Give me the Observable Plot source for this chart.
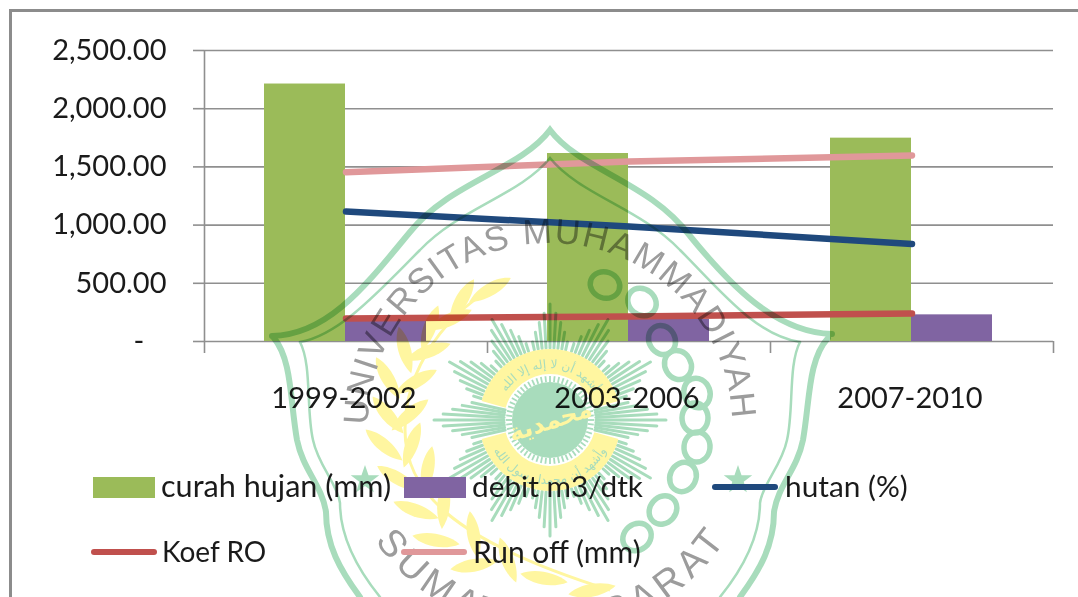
<!DOCTYPE html>
<html>
<head>
<meta charset="utf-8">
<script src="https://cdn.jsdelivr.net/npm/d3@7"></script>
<script src="https://cdn.jsdelivr.net/npm/@observablehq/plot@0.6"></script>
<style>
  html, body { margin: 0; padding: 0; background: #fff; overflow: hidden; }
  #page { position: relative; width: 1078px; height: 597px; overflow: hidden; font-family: Lato, sans-serif; color: #1a1a1a; }
  #frame { position: absolute; left: 9px; top: 9px; right: -5px; bottom: -5px; border: 3px solid #8c8c8c; pointer-events: none; }
  #chart { position: absolute; left: 0; top: 0; }
  .lg { position: absolute; line-height: 36px; white-space: nowrap; }
  .sw { position: absolute; }
</style>
</head>
<body>
<div id="page">
  <div id="chart"></div>
  <div id="frame"></div>
  <div id="legend"></div>
</div>
<script>
const periods    = ["1999-2002", "2003-2006", "2007-2010"];
const curahHujan = [2212, 1615, 1747];
const debit      = [190, 190, 229];
const hutan      = [1117, 988, 838];
const koefRO     = [197, 215, 240];
const runOff     = [1455, 1546, 1598];
const yTicks     = [0, 500, 1000, 1500, 2000, 2500];

const GREEN = "#9bbb59", PURPLE = "#8064a2", NAVY = "#1f497d", RED = "#c0504d", PINK = "#e0989a", AXIS = "#8f8f8f";
const WM = "#a8dcbc", YEL = "#fff6a0", WMTXT = "#9c9c9c";

const fmt = v => v === 0 ? "-\u00a0\u00a0\u00a0" : d3.format(",.2f")(v);

// University watermark that lies over the chart (decoration, not data)
function watermark() {
  const cx = 550, cy = 420;
  const parts = [];
  // shield outline
  parts.push(`<g fill="none" stroke="${WM}" stroke-linecap="round">
    <path stroke-width="6" d="M272,336 C330,335 370,280 410,232 C450,182 520,170 550,130 C580,170 650,182 690,236 C730,285 775,332 832,334"/>
    <path stroke-width="6" d="M274,338 C292,360 290,400 297,440 C303,470 322,485 326,512 C326,545 340,570 360,597"/>
    <path stroke-width="6" d="M828,338 C808,360 810,400 803,440 C797,470 778,485 774,512 C774,545 760,570 740,597"/>
    <path stroke-width="2.5" d="M300,342 C340,335 380,290 420,250 C460,208 520,195 550,158 C580,195 640,208 680,250 C720,290 755,335 800,342"/>
    <path stroke-width="2.5" d="M300,342 C312,365 306,410 313,440 C318,465 338,485 340,503 C340,530 350,560 380,597"/>
    <path stroke-width="2.5" d="M800,342 C788,365 794,410 787,440 C782,465 762,485 760,503 C760,530 750,560 720,597"/>
  </g>`);
  // sun rays
  let rays = "";
  for (let k = 0; k < 12; k++) {
    const a0 = k * Math.PI / 6;
    const side = k === 0 || k === 6;
    for (let j = -4; j <= 4; j++) {
      const a = a0 + j * 0.055;
      const len = 116 - Math.abs(j) * 9;
      const r0 = side ? 46 : 72;
      rays += `<line x1="${cx + r0 * Math.cos(a)}" y1="${cy + r0 * Math.sin(a)}" x2="${cx + len * Math.cos(a)}" y2="${cy + len * Math.sin(a)}"/>`;
    }
  }
  parts.push(`<g stroke="${WM}" stroke-width="3" stroke-linecap="round">${rays}</g>`);
  // yellow ring broken at the two sides
  const arc = (r0, r1, a0, a1) => d3.arc()({innerRadius: r0, outerRadius: r1, startAngle: a0, endAngle: a1});
  parts.push(`<g transform="translate(${cx},${cy})" fill="${YEL}">
    <path d="${arc(46, 71, -1.3, 1.3)}"/><path d="${arc(46, 71, 1.84, 4.44)}"/></g>`);
  // lettering on the ring
  parts.push(`<defs>
    <path id="wmRingT" d="M${cx - 52},${cy} A52,52 0 0 1 ${cx + 52},${cy}"/>
    <path id="wmRingB" d="M${cx - 64},${cy} A64,64 0 0 0 ${cx + 64},${cy}"/>
  </defs>
  <g font-family="DejaVu Sans" font-size="12" fill="${WM}" text-anchor="middle">
    <text text-anchor="middle"><textPath href="#wmRingT" startOffset="50%">أشهد أن لا إله إلا الله</textPath></text>
    <text text-anchor="middle"><textPath href="#wmRingB" startOffset="50%">وأشهد أن محمدا رسول الله</textPath></text>
  </g>`);
  // inner disc
  let teeth = "";
  for (let k = 0; k < 60; k++) {
    const a = k * Math.PI / 30;
    teeth += `<line x1="${cx + 38 * Math.cos(a)}" y1="${cy + 38 * Math.sin(a)}" x2="${cx + 44 * Math.cos(a)}" y2="${cy + 44 * Math.sin(a)}"/>`;
  }
  parts.push(`<g stroke="${WM}" stroke-width="1.8">${teeth}</g><circle cx="${cx}" cy="${cy}" r="38" fill="${WM}"/>`);
  parts.push(`<text x="${cx}" y="${cy + 9}" text-anchor="middle" transform="rotate(-18 ${cx} ${cy})" font-family="DejaVu Sans" font-size="24" font-weight="bold" fill="${YEL}" direction="rtl">محمدية</text>`);
  // laurel
  const leaves = [[490,290,-30],[462,300,-60],[450,320,-25],[430,328,-70],[428,352,-20],[405,350,-105],[416,382,-30],[388,378,-120],[410,415,-40],[388,415,-130],[412,445,-70],[384,445,-140],[428,470,-80],[398,478,-150],[444,505,-85],[416,510,-160],[474,535,-100],[436,540,-170],[508,560,-110],[474,565,170],[544,578,-170],[592,590,170]];
  let lv = `<path d="M505,282 C445,310 405,370 405,430 C405,490 450,540 610,590" fill="none" stroke="${YEL}" stroke-width="3"/>`;
  for (const [x, y, a] of leaves) {
    lv += `<path transform="translate(${x},${y}) rotate(${a})" d="M-24,0 C-10,-9 12,-9 24,0 C12,8 -10,8 -24,0Z" fill="${YEL}"/>`;
  }
  parts.push(`<g>${lv}</g>`);
  // beads
  const beads = [[605,285,20],[642,302,40],[662,340,60],[678,365,60],[697,393,70],[695,418,90],[697,447,95],[683,477,115],[663,510,130],[637,537,140]];
  parts.push(`<g fill="none" stroke="${WM}" stroke-width="5.5">` + beads.map(([x, y, a]) => `<ellipse cx="${x}" cy="${y}" rx="15" ry="13" transform="rotate(${a} ${x} ${y})"/>`).join("") + `</g>`);
  // stars
  const star = (x, y) => `<polygon fill="${WM}" points="${d3.range(10).map(i => { const r = i % 2 ? 6 : 15, a = -Math.PI / 2 + i * Math.PI / 5; return (x + r * Math.cos(a)) + "," + (y + r * Math.sin(a)); }).join(" ")}"/>`;
  parts.push(star(365, 480) + star(738, 480));
  // arc lettering
  parts.push(`<defs>
    <path id="wmTop" d="M368,425 A182,182 0 0 1 732,425"/>
    <path id="wmBot" d="M375,541 A212,212 0 0 0 725,541"/>
  </defs>
  <g font-family="Liberation Sans, Arimo, sans-serif" fill="${WMTXT}" text-anchor="start">
    <text text-anchor="start" font-size="35"><textPath href="#wmTop" textLength="565" lengthAdjust="spacing" startOffset="0">UNIVERSITAS MUHAMMADIYAH</textPath></text>
    <text text-anchor="start" font-size="38"><textPath href="#wmBot" textLength="411" lengthAdjust="spacing" startOffset="0">SUMATERA BARAT</textPath></text>
  </g>`);
  const g = document.createElementNS("http://www.w3.org/2000/svg", "g");
  g.setAttribute("style", "mix-blend-mode:multiply");
  g.innerHTML = parts.join("");
  return g;
}

const lineMark = (vals, stroke) => Plot.line(periods, {
  x: d => d, y: (d, i) => vals[i], stroke, strokeWidth: 6.5, strokeLinecap: "round", strokeOpacity: 1
});

const plot = Plot.plot({
  width: 1078, height: 597,
  marginLeft: 204, marginRight: 25, marginTop: 50, marginBottom: 256,
  style: {background: "transparent", fontFamily: "Lato, sans-serif", fontSize: "29px", color: "#1a1a1a"},
  x: {type: "band", domain: periods, padding: 0, label: null},
  y: {domain: [0, 2500], label: null},
  marks: [
    Plot.gridY(yTicks, {stroke: AXIS, strokeOpacity: 1, strokeWidth: 1.6}),
    Plot.axisY({ticks: yTicks, tickSize: 11, tickPadding: 27, tickFormat: fmt, stroke: AXIS, strokeWidth: 1.6, strokeOpacity: 1, label: null, fontSize: 29, fill: "#1a1a1a", textStroke: "none"}),
    Plot.axisX({tickSize: 0, tickPadding: 46, dx: -2, label: null, fontSize: 29, fill: "#1a1a1a"}),
    Plot.ruleX(periods.slice(0, 1), {x: d => d, dx: -141.5, y1: 0, y2: 2500, stroke: AXIS, strokeWidth: 1.6}),
    Plot.ruleX(periods, {x: d => d, dx: -141.5, y1: 0, y2: 0, insetBottom: -12, stroke: AXIS, strokeWidth: 1.6}),
    Plot.ruleX(periods.slice(-1), {x: d => d, dx: 141.5, y1: 0, y2: 0, insetBottom: -12, stroke: AXIS, strokeWidth: 1.6}),
    Plot.barY(periods, {x: d => d, y: (d, i) => curahHujan[i], fill: GREEN, insetLeft: 60, insetRight: 142}),
    Plot.barY(periods, {x: d => d, y: (d, i) => debit[i], fill: PURPLE, insetLeft: 141, insetRight: 61}),
    lineMark(runOff, PINK),
    lineMark(hutan, NAVY),
    lineMark(koefRO, RED),
    () => watermark()
  ]
});
document.getElementById("chart").appendChild(plot);

// Legend
const legendItems = [
  {label: "curah hujan (mm)", color: GREEN,  kind: "box",  sx: 93,  sw: 62, tx: 161, cy: 486, fs: 30.6},
  {label: "debit m3/dtk",     color: PURPLE, kind: "box",  sx: 404, sw: 62, tx: 472, cy: 486, fs: 29.8},
  {label: "hutan (%)",        color: NAVY,   kind: "line", sx: 712, sw: 66, tx: 785, cy: 486, fs: 29.8},
  {label: "Koef RO",          color: RED,    kind: "line", sx: 91,  sw: 66, tx: 162, cy: 551, fs: 28},
  {label: "Run off (mm)",     color: PINK,   kind: "line", sx: 401, sw: 66, tx: 473, cy: 551, fs: 30}
];
const legend = document.getElementById("legend");
for (const it of legendItems) {
  const s = document.createElement("div");
  s.className = "sw";
  const h = it.kind === "box" ? 21 : 6;
  s.style.cssText = `left:${it.sx}px;top:${it.cy + 1 - h / 2}px;width:${it.sw}px;height:${h}px;background:${it.color};border-radius:${it.kind === "box" ? 0 : 3}px`;
  legend.appendChild(s);
  const t = document.createElement("div");
  t.className = "lg";
  t.textContent = it.label;
  t.style.fontSize = it.fs + "px";
  t.style.left = it.tx + "px";
  t.style.top = (it.cy - 18) + "px";
  legend.appendChild(t);
}
</script>
</body>
</html>
